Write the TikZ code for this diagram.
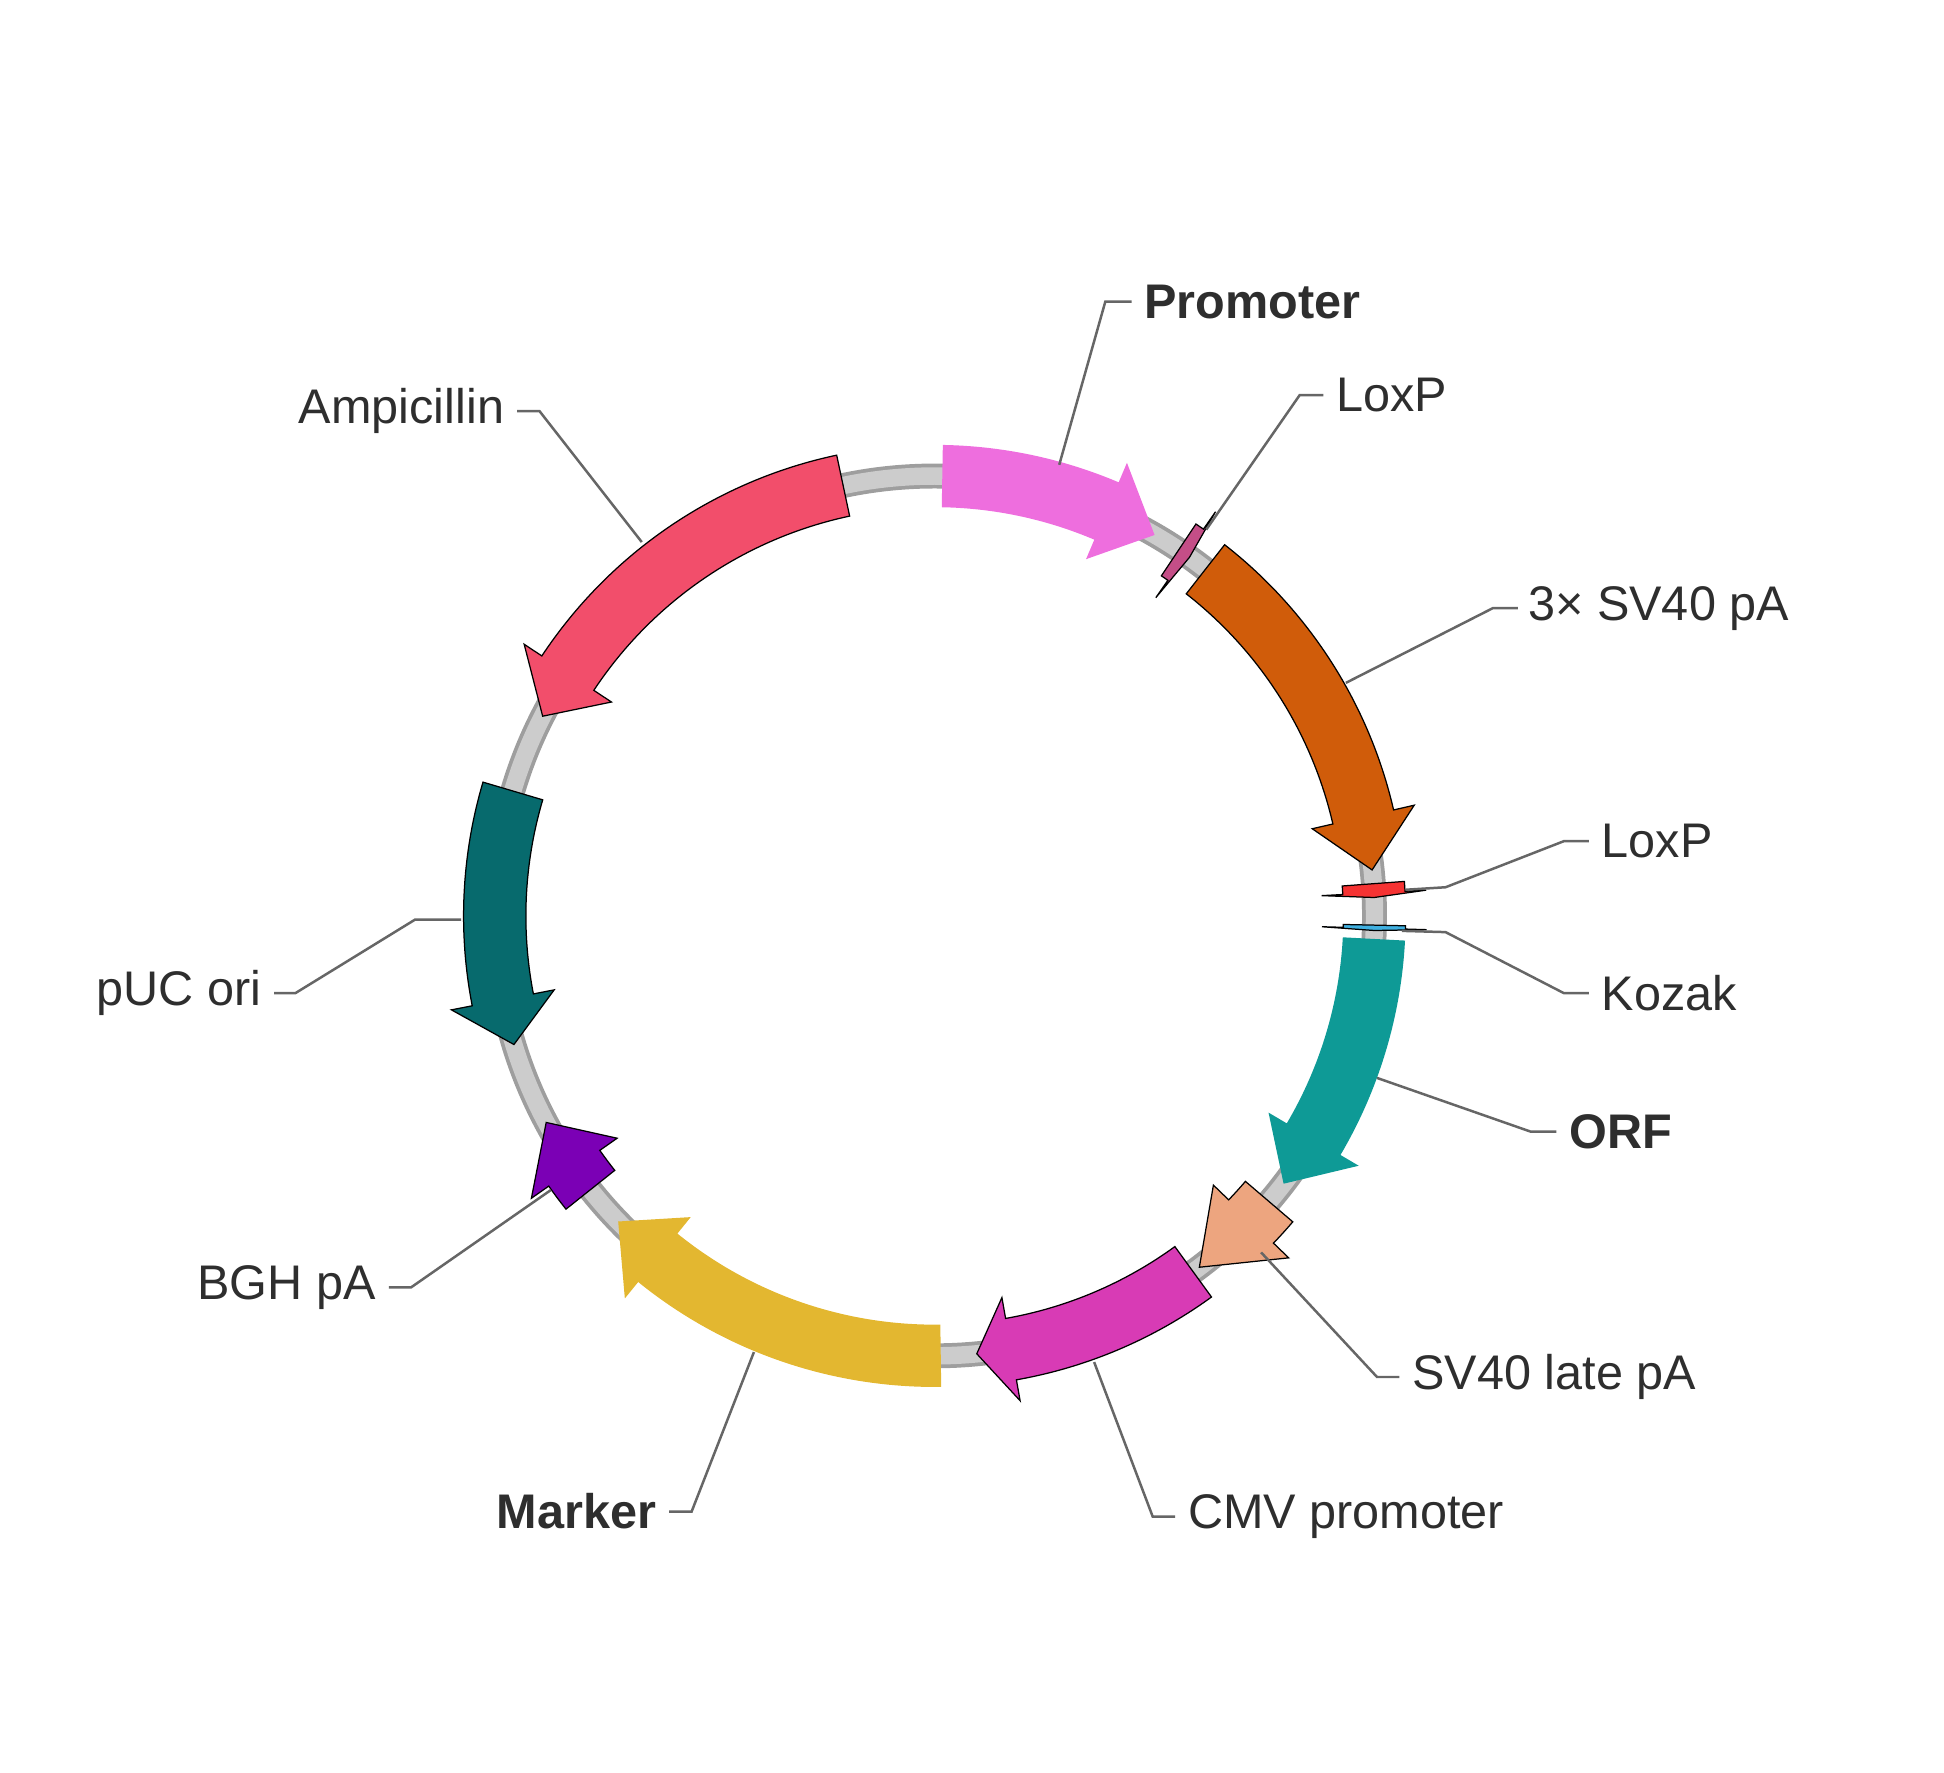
\documentclass[tikz,border=0pt]{standalone}
\usepackage{fontspec}
\setmainfont{Liberation Sans}
\begin{document}
\begin{tikzpicture}[x=0.5pt,y=0.5pt,
  lead/.style={draw=black!60,line width=1pt},
  lab/.style={font=\fontsize{19.5}{22}\selectfont,text=black!82,inner sep=0pt},
  ol/.style={draw=black,line width=0.5pt},
  nol/.style={draw=none}]
\useasboundingbox (0,0) rectangle (1560,-1422);
\definecolor{cProm}{HTML}{EE6EDE}\definecolor{cLox1}{HTML}{C44E87}
\definecolor{cSV}{HTML}{D05C0A}\definecolor{cLox2}{HTML}{F53333}
\definecolor{cKoz}{HTML}{40B0E0}\definecolor{cORF}{HTML}{0E9A96}
\definecolor{cSVl}{HTML}{EDA57F}\definecolor{cCMV}{HTML}{D83BB5}
\definecolor{cMark}{HTML}{E3B730}\definecolor{cBGH}{HTML}{7B00B5}
\definecolor{cPUC}{HTML}{076A6D}\definecolor{cAmp}{HTML}{F24E6B}
\newcommand\feat[5]{\path[#5,fill=#4] (#1:378) arc[start angle=#1,end angle=#2,radius=378] -- (#2:395) -- (#3:353) -- (#2:311) -- (#2:328) arc[start angle=#2,end angle=#1,radius=328] -- cycle;}
\begin{scope}[shift={(750,-735)}]
\draw[line width=10pt,color=black!38] (0,0) circle[radius=353];
\draw[line width=7pt,color=black!20] (0,0) circle[radius=353];
\feat{89}{67}{60}{cProm}{nol}
\feat{56.3}{55.2}{54.6}{cLox1}{ol}
\feat{52}{13}{6}{cSV}{ol}
\feat{4.2}{3}{2.4}{cLox2}{ol}
\feat{-1.2}{-1.6}{-1.9}{cKoz}{ol}
\feat{-3}{-30.5}{-37.5}{cORF}{nol}
\feat{-40.5}{-44}{-53}{cSVl}{ol}
\feat{-54}{-80}{-84.5}{cCMV}{ol}
\feat{-89.2}{-129}{-136}{cMark}{nol}
\feat{-141.5}{-145}{-152}{cBGH}{ol}
\feat{163.5}{191}{197}{cPUC}{ol}
\feat{102}{146.5}{153}{cAmp}{ol}
\end{scope}
% labels
\node[lab,anchor=west,font=\fontsize{19.5}{22}\selectfont\bfseries] (lProm) at (918,-242) {Promoter};
\node[lab,anchor=west] (lLox1) at (1072,-317) {LoxP};
\node[lab,anchor=west] (lSV) at (1226,-488) {3× SV40 pA};
\node[lab,anchor=west] (lLox2) at (1285,-675) {LoxP};
\node[lab,anchor=west] (lKoz) at (1285,-797) {Kozak};
\node[lab,anchor=west,font=\fontsize{19.5}{22}\selectfont\bfseries] (lORF) at (1259,-908) {ORF};
\node[lab,anchor=west] (lSVl) at (1133,-1105) {SV40 late pA};
\node[lab,anchor=west] (lCMV) at (953,-1217) {CMV promoter};
\node[lab,anchor=east,font=\fontsize{19.5}{22}\selectfont\bfseries] (lMark) at (527,-1213) {Marker};
\node[lab,anchor=east] (lBGH) at (302,-1033) {BGH pA};
\node[lab,anchor=east] (lPUC) at (210,-797) {pUC ori};
\node[lab,anchor=east] (lAmp) at (405,-330) {Ampicillin};
% leaders
\coordinate (p1) at (850,-373); \coordinate (e1) at (887,-242);
\draw[lead] (p1) -- (e1) -- ([xshift=-5pt]lProm.west);
\coordinate (p2) at (968,-425); \coordinate (e2) at (1043,-317);
\draw[lead] (p2) -- (e2) -- ([xshift=-5pt]lLox1.west);
\coordinate (p3) at (1080,-548); \coordinate (e3) at (1198,-488);
\draw[lead] (p3) -- (e3) -- ([xshift=-4pt]lSV.west);
\coordinate (p4) at (1128,-714); \coordinate (q4) at (1160,-712); \coordinate (e4) at (1255,-675);
\draw[lead] (p4) -- (q4) -- (e4) -- ([xshift=-5pt]lLox2.west);
\coordinate (p5) at (1125,-747); \coordinate (q5) at (1160,-748); \coordinate (e5) at (1255,-797);
\draw[lead] (p5) -- (q5) -- (e5) -- ([xshift=-5pt]lKoz.west);
\coordinate (p6) at (1105,-865); \coordinate (e6) at (1228,-908);
\draw[lead] (p6) -- (e6) -- ([xshift=-5pt]lORF.west);
\coordinate (p7) at (1012,-1005); \coordinate (e7) at (1105,-1105);
\draw[lead] (p7) -- (e7) -- ([xshift=-5pt]lSVl.west);
\coordinate (p8) at (878,-1093); \coordinate (e8) at (925,-1217);
\draw[lead] (p8) -- (e8) -- ([xshift=-5pt]lCMV.west);
\coordinate (p9) at (605,-1085); \coordinate (e9) at (555,-1213);
\draw[lead] (p9) -- (e9) -- ([xshift=5pt]lMark.east);
\coordinate (p10) at (442,-955); \coordinate (e10) at (330,-1033);
\draw[lead] (p10) -- (e10) -- ([xshift=5pt]lBGH.east);
\coordinate (p11) at (370,-738); \coordinate (q11) at (333,-738); \coordinate (e11) at (237,-797);
\draw[lead] (p11) -- (q11) -- (e11) -- ([xshift=5pt]lPUC.east);
\coordinate (p12) at (515,-435); \coordinate (e12) at (433,-330);
\draw[lead] (p12) -- (e12) -- ([xshift=5pt]lAmp.east);
\end{tikzpicture}
\end{document}
